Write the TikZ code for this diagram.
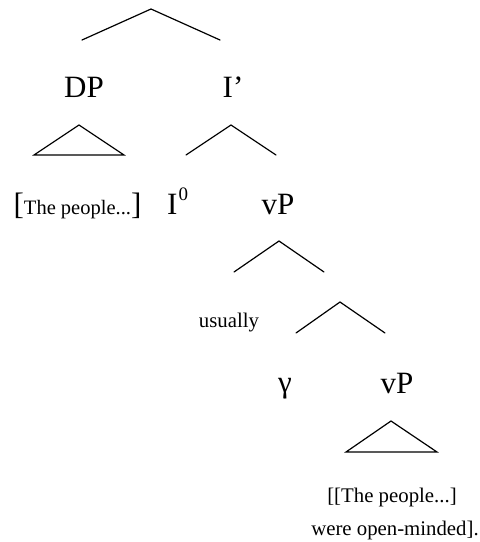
\documentclass[tikz,border=0pt]{standalone}
\usepackage{fontspec}
\setmainfont{Liberation Serif}
\begin{document}
\begin{tikzpicture}[x=1pt,y=-1pt,
  big/.style={inner sep=0pt,anchor=base,font=\fontsize{31}{31}\selectfont},
  small/.style={inner sep=0pt,anchor=base,font=\fontsize{20.8}{21}\selectfont},
  branch/.style={line width=1.2pt,line cap=round,line join=miter}]
\useasboundingbox (0,0) rectangle (480,542);
% labels
\node[big] (dp) at (84,97) {DP};
\node[big] (ibar) at (233,97) {I'};
\node[big] (subj) at (77.5,214) {[{\fontsize{20.5}{21}\selectfont The people...}]};
\node[big,anchor=base west] (i0) at (167,214) {I\kern1pt\raisebox{14pt}{\fontsize{19}{19}\selectfont 0}};
\node[big] (vp1) at (278,214) {vP};
\node[small] (usually) at (229,327) {usually};
\node[big] (gamma) at (285,392) {γ};
\node[big] (vp2) at (397,393) {vP};
\node[small] (l1) at (392,502) {[[The people...]};
\node[small] (l2) at (395,535) {were open-minded].};
% branch points
\coordinate (a0) at (151,9);   \coordinate (a0l) at (82,40);   \coordinate (a0r) at (220,40);
\coordinate (t1) at (79,125);  \coordinate (t1l) at (34,155);  \coordinate (t1r) at (124,155);
\coordinate (a1) at (231,125); \coordinate (a1l) at (186,155); \coordinate (a1r) at (276,155);
\coordinate (a2) at (279,241); \coordinate (a2l) at (234,272); \coordinate (a2r) at (324,272);
\coordinate (a3) at (340,302); \coordinate (a3l) at (296,333); \coordinate (a3r) at (385,333);
\coordinate (t2) at (391,421); \coordinate (t2l) at (346,452); \coordinate (t2r) at (437,452);
\draw[branch] (a0l) -- (a0) -- (a0r);
\draw[branch] (t1l) -- (t1) -- (t1r) -- cycle;
\draw[branch] (a1l) -- (a1) -- (a1r);
\draw[branch] (a2l) -- (a2) -- (a2r);
\draw[branch] (a3l) -- (a3) -- (a3r);
\draw[branch] (t2l) -- (t2) -- (t2r) -- cycle;
\end{tikzpicture}
\end{document}
